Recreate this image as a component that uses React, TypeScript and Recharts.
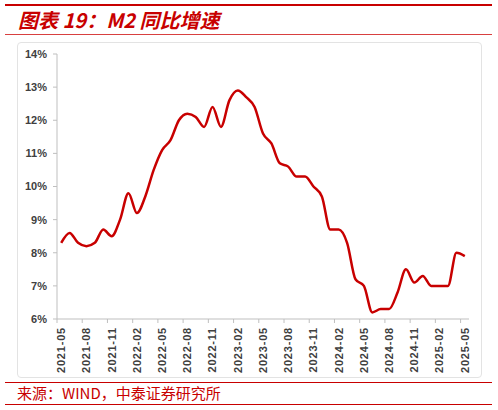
import { LineChart, Line, XAxis, YAxis } from "recharts";

// M2 year-on-year growth, %
const months = [
  "2021-05", "2021-06", "2021-07", "2021-08", "2021-09", "2021-10", "2021-11", "2021-12",
  "2022-01", "2022-02", "2022-03", "2022-04", "2022-05", "2022-06", "2022-07", "2022-08",
  "2022-09", "2022-10", "2022-11", "2022-12", "2023-01", "2023-02", "2023-03", "2023-04",
  "2023-05", "2023-06", "2023-07", "2023-08", "2023-09", "2023-10", "2023-11", "2023-12",
  "2024-01", "2024-02", "2024-03", "2024-04", "2024-05", "2024-06", "2024-07", "2024-08",
  "2024-09", "2024-10", "2024-11", "2024-12", "2025-01", "2025-02", "2025-03", "2025-04",
  "2025-05",
];
const m2Growth = [
  8.3, 8.6, 8.3, 8.2, 8.3, 8.7, 8.5, 9.0,
  9.8, 9.2, 9.7, 10.5, 11.1, 11.4, 12.0, 12.2,
  12.1, 11.8, 12.4, 11.8, 12.6, 12.9, 12.7, 12.4,
  11.6, 11.3, 10.7, 10.6, 10.3, 10.3, 10.0, 9.7,
  8.7, 8.7, 8.3, 7.2, 7.0, 6.2, 6.3, 6.3,
  6.8, 7.5, 7.1, 7.3, 7.0, 7.0, 7.0, 8.0,
  7.9,
];
const yTicks = [6, 7, 8, 9, 10, 11, 12, 13, 14];

const data = months.map((m, i) => ({ month: m, m2: m2Growth[i] }));

const RED = "#c80000";
const AXIS = "#bfbfbf";
const TEXT = "#404040";

const CHART_W = 498;
const CHART_H = 380;
const MARGIN = { top: 54, right: 29, bottom: 6, left: 0 };
const Y_AXIS_W = 57;
const BAND = (CHART_W - MARGIN.left - MARGIN.right - Y_AXIS_W) / months.length;

const XTick = (props: any) => {
  const { x, y, payload } = props;
  return (
    <g transform={`translate(${x},${y})`}>
      <line x1={-BAND / 2} x2={-BAND / 2} y1={-8} y2={-4} stroke={AXIS} />
      <text
        transform="rotate(-90)"
        textAnchor="end"
        dy="0.35em"
        fontSize={11}
        fontWeight="bold"
        letterSpacing={0.8}
        fill={TEXT}
        fontFamily="'Liberation Sans', Arial, sans-serif"
      >
        {payload.value}
      </text>
    </g>
  );
};

export default function App() {
  return (
    <div
      style={{
        position: "absolute",
        left: 0,
        top: 0,
        width: 498,
        height: 410,
        background: "#fff",
        fontFamily: "'Noto Sans CJK SC', sans-serif",
      }}
    >
      <div style={{ position: "absolute", left: 5, top: 4, width: 487, height: 2, background: RED }} />
      <div
        style={{
          position: "absolute",
          left: 18,
          top: 7,
          fontSize: 20,
          lineHeight: "26px",
          fontWeight: "bold",
          fontStyle: "italic",
          color: RED,
          whiteSpace: "nowrap",
        }}
      >
        图表 19：M2 同比增速
      </div>
      <div style={{ position: "absolute", left: 5, top: 34, width: 487, height: 1, background: "#d84040" }} />

      <div
        style={{
          position: "absolute",
          left: 17,
          top: 42,
          width: 463,
          height: 334,
          border: "1px solid #e3e3e3",
          borderRadius: 4,
        }}
      />

      <div style={{ position: "absolute", left: 0, top: 0 }}>
        <LineChart width={CHART_W} height={CHART_H} data={data} margin={MARGIN}>
          <XAxis
            dataKey="month"
            scale="band"
            interval={2}
            height={55}
            stroke={AXIS}
            tickLine={false}
            tickSize={4}
            tickMargin={4}
            tick={<XTick />}
          />
          <YAxis
            width={Y_AXIS_W}
            domain={[6, 14]}
            ticks={yTicks}
            tickFormatter={(v) => `${v}%`}
            stroke={AXIS}
            tickSize={4}
            tickMargin={6}
            tick={{
              fontSize: 11,
              fontWeight: "bold",
              fill: TEXT,
              fontFamily: "'Liberation Sans', Arial, sans-serif",
            }}
          />
          <Line
            type="monotone"
            dataKey="m2"
            stroke={RED}
            strokeWidth={2.5}
            dot={false}
            isAnimationActive={false}
          />
        </LineChart>
      </div>

      <div style={{ position: "absolute", left: 5, top: 382, width: 487, height: 1, background: RED }} />
      <div
        style={{
          position: "absolute",
          left: 17,
          top: 384,
          fontSize: 15,
          lineHeight: "18px",
          color: RED,
          whiteSpace: "nowrap",
        }}
      >
        来源：WIND，中泰证券研究所
      </div>
      <div style={{ position: "absolute", left: 5, top: 404, width: 487, height: 1, background: RED }} />
    </div>
  );
}
